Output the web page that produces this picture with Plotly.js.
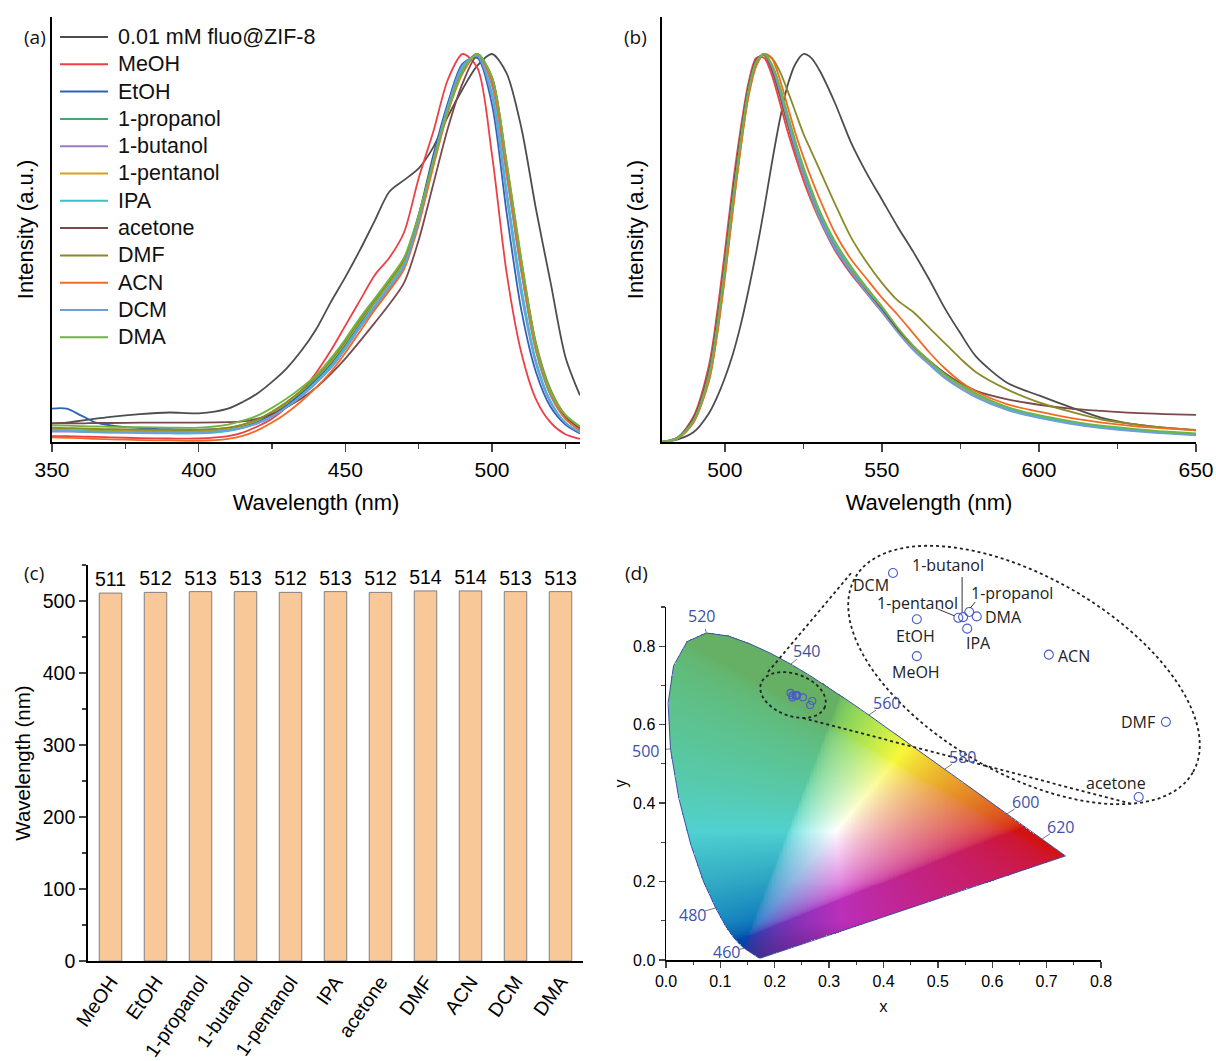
<!DOCTYPE html>
<html>
<head>
<meta charset="utf-8">
<script src="https://cdn.plot.ly/plotly-3.0.1.min.js"></script>
<style>html,body{margin:0;padding:0;background:#fff}#chart{width:1216px;height:1061px}</style>
</head>
<body>
<div id="chart"></div>
<script>
// ---------------- DATA ----------------
const solvents = ['MeOH','EtOH','1-propanol','1-butanol','1-pentanol','IPA','acetone','DMF','ACN','DCM','DMA'];
const seriesNames = ['0.01 mM fluo@ZIF-8'].concat(solvents);

// (a) excitation spectra, normalized
const wlExc = [350,355,360,365,370,380,390,400,410,415,420,425,430,435,440,445,450,455,460,465,470,475,480,485,490,495,500,505,510,515,520,525,530];
const excFluo     = [0.048,0.05,0.055,0.06,0.065,0.072,0.076,0.074,0.086,0.103,0.125,0.155,0.19,0.235,0.29,0.36,0.425,0.495,0.57,0.645,0.675,0.705,0.76,0.84,0.91,0.97,1.0,0.95,0.81,0.6,0.41,0.22,0.12];
const excMeOH     = [0.015,0.015,0.014,0.013,0.012,0.01,0.009,0.009,0.015,0.024,0.04,0.06,0.09,0.13,0.178,0.235,0.3,0.365,0.43,0.475,0.54,0.68,0.8,0.935,1.0,0.965,0.74,0.435,0.23,0.11,0.05,0.02,0.008];
const excEtOH     = [0.086,0.086,0.068,0.05,0.043,0.036,0.033,0.032,0.036,0.042,0.052,0.07,0.095,0.125,0.16,0.2,0.25,0.305,0.36,0.41,0.465,0.585,0.74,0.875,0.975,0.99,0.87,0.59,0.34,0.18,0.09,0.045,0.022];
const excPropanol = [0.033,0.032,0.031,0.03,0.03,0.029,0.028,0.028,0.034,0.042,0.055,0.075,0.1,0.13,0.165,0.205,0.255,0.31,0.36,0.41,0.465,0.58,0.725,0.86,0.96,1.0,0.92,0.69,0.44,0.235,0.12,0.06,0.03];
const excButanol  = [0.027,0.027,0.026,0.026,0.025,0.025,0.025,0.025,0.03,0.037,0.048,0.066,0.09,0.118,0.152,0.19,0.24,0.295,0.345,0.395,0.45,0.565,0.715,0.855,0.955,1.0,0.92,0.69,0.44,0.235,0.12,0.06,0.03];
const excPentanol = [0.035,0.034,0.033,0.032,0.032,0.031,0.03,0.03,0.036,0.044,0.057,0.077,0.102,0.132,0.167,0.207,0.257,0.312,0.362,0.412,0.467,0.58,0.72,0.855,0.955,1.0,0.93,0.71,0.46,0.25,0.13,0.065,0.035];
const excIPA      = [0.031,0.029,0.027,0.025,0.024,0.023,0.022,0.022,0.028,0.036,0.048,0.066,0.09,0.12,0.155,0.195,0.245,0.3,0.352,0.402,0.457,0.575,0.725,0.865,0.965,0.995,0.9,0.65,0.4,0.21,0.105,0.05,0.025];
const excAcetone  = [0.048,0.048,0.048,0.049,0.049,0.05,0.05,0.05,0.051,0.053,0.06,0.072,0.09,0.112,0.14,0.175,0.215,0.26,0.307,0.355,0.41,0.52,0.665,0.81,0.925,0.995,0.94,0.71,0.46,0.25,0.13,0.065,0.035];
const excDMF      = [0.037,0.036,0.035,0.034,0.033,0.032,0.031,0.031,0.037,0.045,0.058,0.078,0.103,0.133,0.168,0.21,0.26,0.315,0.365,0.415,0.47,0.585,0.725,0.86,0.955,1.0,0.94,0.72,0.47,0.255,0.135,0.07,0.04];
const excACN      = [0.012,0.011,0.01,0.008,0.007,0.005,0.004,0.003,0.008,0.016,0.03,0.05,0.075,0.105,0.14,0.18,0.23,0.285,0.34,0.39,0.445,0.56,0.71,0.85,0.95,1.0,0.93,0.7,0.45,0.24,0.125,0.06,0.03];
const excDCM      = [0.029,0.028,0.027,0.026,0.026,0.025,0.025,0.025,0.03,0.037,0.048,0.066,0.09,0.118,0.152,0.19,0.24,0.295,0.348,0.398,0.452,0.57,0.725,0.865,0.97,0.995,0.89,0.63,0.38,0.2,0.1,0.05,0.025];
const excDMA      = [0.043,0.042,0.041,0.04,0.039,0.038,0.037,0.037,0.045,0.055,0.068,0.088,0.112,0.14,0.172,0.215,0.265,0.32,0.37,0.42,0.475,0.585,0.72,0.855,0.955,1.0,0.94,0.72,0.47,0.25,0.13,0.07,0.04];

// (b) emission spectra, normalized
const wlEm = [480,485,490,495,497.5,500,502.5,505,507.5,510,512.5,515,517.5,520,522.5,525,527.5,530,535,540,545,550,555,560,565,570,575,580,590,600,610,620,630,640,650];
const emFluo     = [0,0.007,0.025,0.075,0.115,0.165,0.225,0.3,0.39,0.49,0.6,0.72,0.83,0.92,0.975,1.0,0.99,0.96,0.875,0.775,0.695,0.625,0.555,0.49,0.42,0.345,0.28,0.22,0.152,0.12,0.09,0.062,0.046,0.037,0.03];
const emMeOH     = [0,0.012,0.065,0.2,0.33,0.49,0.66,0.805,0.925,0.99,0.99,0.945,0.875,0.8,0.735,0.675,0.622,0.575,0.495,0.435,0.385,0.335,0.285,0.24,0.205,0.17,0.145,0.122,0.088,0.067,0.052,0.04,0.032,0.025,0.02];
const emEtOH     = [0,0.011,0.06,0.185,0.31,0.465,0.64,0.79,0.915,0.985,0.998,0.96,0.895,0.82,0.75,0.69,0.633,0.58,0.5,0.44,0.388,0.338,0.287,0.242,0.205,0.17,0.143,0.12,0.086,0.065,0.05,0.038,0.03,0.024,0.019];
const emPropanol = [0,0.01,0.055,0.175,0.295,0.45,0.62,0.775,0.905,0.98,1.0,0.97,0.91,0.835,0.765,0.7,0.643,0.59,0.508,0.447,0.395,0.344,0.291,0.245,0.207,0.172,0.145,0.122,0.088,0.066,0.051,0.039,0.031,0.025,0.02];
const emButanol  = [0,0.01,0.056,0.176,0.297,0.452,0.622,0.776,0.905,0.98,1.0,0.968,0.906,0.83,0.76,0.695,0.638,0.585,0.505,0.444,0.392,0.342,0.289,0.243,0.205,0.17,0.143,0.12,0.086,0.065,0.05,0.038,0.03,0.024,0.019];
const emPentanol = [0,0.011,0.058,0.185,0.31,0.465,0.64,0.79,0.915,0.985,0.998,0.96,0.893,0.818,0.748,0.688,0.631,0.578,0.5,0.442,0.39,0.341,0.289,0.243,0.206,0.171,0.144,0.121,0.087,0.066,0.051,0.039,0.031,0.025,0.02];
const emIPA      = [0,0.01,0.055,0.175,0.295,0.45,0.62,0.775,0.905,0.98,1.0,0.972,0.915,0.84,0.77,0.705,0.648,0.595,0.513,0.451,0.398,0.347,0.293,0.247,0.208,0.173,0.146,0.123,0.088,0.066,0.051,0.039,0.031,0.025,0.02];
const emAcetone  = [0,0.011,0.06,0.185,0.31,0.465,0.64,0.79,0.915,0.985,0.998,0.96,0.895,0.82,0.75,0.69,0.633,0.58,0.5,0.44,0.388,0.34,0.29,0.247,0.21,0.178,0.152,0.132,0.11,0.096,0.086,0.08,0.075,0.072,0.07];
const emDMF      = [0,0.009,0.05,0.16,0.275,0.425,0.595,0.755,0.89,0.97,1.0,0.99,0.955,0.905,0.85,0.795,0.75,0.705,0.615,0.53,0.465,0.41,0.365,0.335,0.295,0.255,0.215,0.18,0.135,0.102,0.078,0.058,0.046,0.037,0.031];
const emACN      = [0,0.009,0.05,0.16,0.275,0.425,0.595,0.755,0.89,0.97,1.0,0.988,0.935,0.865,0.795,0.735,0.68,0.63,0.54,0.473,0.422,0.372,0.328,0.28,0.232,0.19,0.156,0.13,0.097,0.078,0.062,0.05,0.041,0.035,0.03];
const emDCM      = [0,0.01,0.055,0.175,0.295,0.45,0.62,0.775,0.905,0.98,1.0,0.968,0.905,0.828,0.755,0.69,0.633,0.58,0.5,0.44,0.386,0.336,0.283,0.237,0.2,0.165,0.138,0.115,0.082,0.062,0.047,0.036,0.028,0.022,0.017];
const emDMA      = [0,0.01,0.054,0.172,0.292,0.447,0.617,0.772,0.903,0.979,1.0,0.973,0.917,0.845,0.775,0.71,0.653,0.6,0.518,0.455,0.4,0.35,0.295,0.248,0.21,0.175,0.148,0.125,0.09,0.069,0.054,0.042,0.034,0.027,0.022];

// (c) emission peak wavelengths
const peakWl = [511,512,513,513,512,513,512,514,514,513,513];

// (d) CIE 1931 coordinates of the solvents (same order as solvents)
const cieSolX = [0.2325,0.2325,0.2402,0.2393,0.2386,0.2399,0.2651,0.2691,0.2519,0.2290,0.2413];
const cieSolY = [0.6695,0.6746,0.6756,0.6749,0.6748,0.6733,0.6500,0.6604,0.6697,0.6810,0.6750];

// CIE 1931 spectral locus
const locusWl = [380,400,410,420,430,435,440,445,450,455,460,465,470,475,480,485,490,495,500,505,510,515,520,525,530,535,540,545,550,555,560,565,570,575,580,585,590,595,600,605,610,620,630,640,650,660,680,700];
const locusX  = [0.1741,0.1733,0.1726,0.1714,0.1689,0.1669,0.1644,0.1611,0.1566,0.1510,0.1440,0.1355,0.1241,0.1096,0.0913,0.0687,0.0454,0.0235,0.0082,0.0039,0.0139,0.0389,0.0743,0.1142,0.1547,0.1929,0.2296,0.2658,0.3016,0.3373,0.3731,0.4087,0.4441,0.4788,0.5125,0.5448,0.5752,0.6029,0.6270,0.6482,0.6658,0.6915,0.7079,0.7190,0.7260,0.7300,0.7334,0.7347];
const locusY  = [0.0050,0.0048,0.0048,0.0051,0.0069,0.0086,0.0109,0.0138,0.0177,0.0227,0.0297,0.0399,0.0578,0.0868,0.1327,0.2007,0.2950,0.4127,0.5384,0.6548,0.7502,0.8120,0.8338,0.8262,0.8059,0.7816,0.7543,0.7243,0.6923,0.6589,0.6245,0.5896,0.5547,0.5202,0.4866,0.4544,0.4242,0.3965,0.3725,0.3514,0.3340,0.3083,0.2920,0.2809,0.2740,0.2700,0.2666,0.2653];
const markedWl = [460,480,500,520,540,560,580,600,620];

// ---------------- STYLE / LAYOUT HELPERS ----------------
const W = 1216, H = 1061;
const fx = px => px / W;
const fy = py => 1 - py / H;
const colors = ['#4d4d4d','#ee3f46','#2f62b6','#45a866','#9b7bc6','#d6a21d','#3cc0c6','#7a494b','#8c8a28','#f26a24','#6e9fd6','#6fb540'];
const excSeries = [excFluo,excMeOH,excEtOH,excPropanol,excButanol,excPentanol,excIPA,excAcetone,excDMF,excACN,excDCM,excDMA];
const emSeries  = [emFluo,emMeOH,emEtOH,emPropanol,emButanol,emPentanol,emIPA,emAcetone,emDMF,emACN,emDCM,emDMA];
const sansA = 'Liberation Sans, Arial, sans-serif';
const sansD = 'Open Sans, Noto Sans, sans-serif';
const cieBlue = '#3e50a8';

const traces = [];
seriesNames.forEach((n,i)=>{
  traces.push({type:'scatter',mode:'lines',x:wlExc,y:excSeries[i],name:n,showlegend:false,
    line:{color:colors[i],width:1.8,shape:'spline',smoothing:0.8},xaxis:'x',yaxis:'y',hoverinfo:'skip'});
});
seriesNames.forEach((n,i)=>{
  traces.push({type:'scatter',mode:'lines',x:wlEm,y:emSeries[i],name:n,showlegend:false,
    line:{color:colors[i],width:1.8,shape:'spline',smoothing:0.8},xaxis:'x2',yaxis:'y2',hoverinfo:'skip'});
});
traces.push({type:'bar',x:solvents,y:peakWl,text:peakWl.map(String),textposition:'outside',constraintext:'none',
  textfont:{family:sansA,size:19.5,color:'#000'},cliponaxis:false,width:0.5,
  marker:{color:'#f9c899',line:{color:'#7f7f7f',width:1}},xaxis:'x3',yaxis:'y3',showlegend:false,hoverinfo:'skip'});

// CIE colour image
function inside(px,py){
  let c=false; const n=locusX.length;
  for(let i=0,j=n-1;i<n;j=i++){
    const xi=locusX[i], yi=locusY[i], xj=locusX[j], yj=locusY[j];
    if(((yi>py)!==(yj>py)) && (px < (xj-xi)*(py-yi)/(yj-yi)+xi)) c=!c;
  }
  return c;
}
function cieColor(x,y){
  const X=x/y, Y=1, Z=(1-x-y)/y;
  let r= 3.2406*X-1.5372*Y-0.4986*Z;
  let g=-0.9689*X+1.8758*Y+0.0415*Z;
  let b= 0.0557*X-0.2040*Y+1.0570*Z;
  r=Math.max(r,0); g=Math.max(g,0); b=Math.max(b,0);
  const m=Math.max(r,g,b); r/=m; g/=m; b/=m;
  const gam=v=> v<=0.0031308?12.92*v:1.055*Math.pow(v,1/2.4)-0.055;
  r=gam(r); g=gam(g); b=gam(b);
  const L=0.3*r+0.59*g+0.11*b;
  const gdom=Math.max(0,g-Math.max(r,b));
  const cyan=Math.max(0,Math.min(g,b)-r);
  const purple=Math.max(0,Math.min(r,b)-g);
  const s=0.75-0.45*gdom-0.22*cyan-0.2*purple;
  r=L+s*(r-L); g=L+s*(g-L); b=L+s*(b-L);
  const bdom=Math.max(0,b-Math.max(r,g));
  g+=0.4*bdom; r-=0.05*bdom;
  const k=(1-0.08*g*(1-r))*Math.min(1,0.75+2.5*y);
  const cl=v=>Math.round(255*Math.max(0,Math.min(1,v*k)));
  return [cl(r),cl(g),cl(b),1];
}
const imgD = 0.0025, imgNx = 320, imgNy = 360;
const zImg = [];
for(let j=0;j<imgNy;j++){
  const yy=(j+0.5)*imgD, row=[];
  for(let i=0;i<imgNx;i++){
    const xx=(i+0.5)*imgD;
    row.push(inside(xx,yy)?cieColor(xx,yy):[255,255,255,0]);
  }
  zImg.push(row);
}
traces.push({type:'image',z:zImg,colormodel:'rgba',x0:imgD/2,dx:imgD,y0:imgD/2,dy:imgD,xaxis:'x4',yaxis:'y4',hoverinfo:'skip'});
traces.push({type:'scatter',mode:'lines',x:locusX.concat([locusX[0]]),y:locusY.concat([locusY[0]]),
  line:{color:cieBlue,width:1},xaxis:'x4',yaxis:'y4',showlegend:false,hoverinfo:'skip'});
const ptMarker = s => ({symbol:'circle-open',size:s,color:'#4a5cc6',line:{width:1.1,color:'#4a5cc6'}});
traces.push({type:'scatter',mode:'markers',x:cieSolX,y:cieSolY,marker:ptMarker(7),xaxis:'x4',yaxis:'y4',showlegend:false,hoverinfo:'skip'});
traces.push({type:'scatter',mode:'markers',x:cieSolX,y:cieSolY,marker:ptMarker(9),xaxis:'x5',yaxis:'y5',showlegend:false,hoverinfo:'skip'});

// ---------- annotations & shapes ----------
const annotations = [];
const shapes = [];
[['(a)',22,22],['(b)',635,22],['(c)',22,573],['(d)',636,573]].forEach(p=>{
  annotations.push({text:p[0],x:fx(p[1]),y:fy(p[2]),xref:'paper',yref:'paper',showarrow:false,
    font:{family:sansD,size:19,color:'#111'}});
});
// legend of panel (a)
const legX0 = 60, legX1 = 108, legTextX = 116, legY0 = 37, legDy = 27.3;
seriesNames.forEach((n,i)=>{
  const yy = legY0 + legDy*i;
  shapes.push({type:'line',xref:'paper',yref:'paper',x0:fx(legX0),x1:fx(legX1),y0:fy(yy),y1:fy(yy),line:{color:colors[i],width:2}});
  annotations.push({text:n,x:fx(legTextX),y:fy(yy),xref:'paper',yref:'paper',xanchor:'left',yanchor:'middle',showarrow:false,
    font:{family:sansA,size:21.5,color:'#111'}});
});
// wavelength labels around locus (label positions in data units of panel d)
const wlLabelPos = {460:[0.111,0.021],480:[0.049,0.116],500:[-0.038,0.532],520:[0.066,0.876],540:[0.259,0.788],
  560:[0.406,0.656],580:[0.546,0.518],600:[0.661,0.403],620:[0.726,0.340]};
const sx = 543.75, sy = 392.2; // px per unit in panel d
markedWl.forEach(w=>{
  const k = locusWl.indexOf(w);
  const lx = locusX[k], ly = locusY[k];
  const [tx,ty] = wlLabelPos[w];
  if (tx < 0) {
    annotations.push({text:String(w),x:0,y:ty,xref:'x4',yref:'y4',xshift:tx*sx,showarrow:false,
      font:{family:sansD,size:16,color:cieBlue}});
  } else {
    annotations.push({text:String(w),x:tx,y:ty,xref:'x4',yref:'y4',showarrow:false,
      font:{family:sansD,size:16,color:cieBlue}});
  }
  let vx=(tx-lx)*sx, vy=(ty-ly)*sy; const len=Math.hypot(vx,vy);
  vx/=len; vy/=len;
  shapes.push({type:'line',xref:'x4',yref:'y4',xsizemode:'pixel',ysizemode:'pixel',xanchor:lx,yanchor:ly,
    x0:0,y0:0,x1:vx*(len-13),y1:vy*(len-13),line:{color:'#777',width:1}});
});
// inset labels (pixel offsets from each point)
const labelOffsets = {'MeOH':[-1,-16],'EtOH':[-1,-17],'1-propanol':[43,19],'1-butanol':[-15,52],'1-pentanol':[-41,15],
  'IPA':[11,-14],'acetone':[-23,14],'DMF':[-28,0],'ACN':[25,-1],'DCM':[-22,-12],'DMA':[27,-1]};
solvents.forEach((s,i)=>{
  const o=labelOffsets[s];
  annotations.push({text:s,x:cieSolX[i],y:cieSolY[i],xref:'x5',yref:'y5',xshift:o[0],yshift:o[1],showarrow:false,
    font:{family:sansD,size:16,color:'#222'}});
});
const leader = (name,a,b)=>{const i=solvents.indexOf(name);
  shapes.push({type:'line',xref:'x5',yref:'y5',xsizemode:'pixel',ysizemode:'pixel',xanchor:cieSolX[i],yanchor:cieSolY[i],
    x0:a[0],y0:a[1],x1:b[0],y1:b[1],line:{color:'#333',width:1}});};
leader('1-butanol',[-1,40],[-1,5]);
leader('1-pentanol',[-21,9],[-4,2]);
leader('1-propanol',[6,10],[1,4]);
// zoom ellipses and connectors (screen-space geometry)
function ellipsePath(cx,cy,a,b,deg){
  const t=deg*Math.PI/180; let d='';
  for(let k=0;k<=90;k++){
    const p=2*Math.PI*k/90, ex=a*Math.cos(p), ey=b*Math.sin(p);
    const px=cx+ex*Math.cos(t)-ey*Math.sin(t), py=cy+ex*Math.sin(t)+ey*Math.cos(t);
    d+=(k?'L':'M')+fx(px).toFixed(5)+','+fy(py).toFixed(5);
  }
  return d+'Z';
}
const dotLine = {color:'#222',width:1.8,dash:'dot'};
shapes.push({type:'path',xref:'paper',yref:'paper',path:ellipsePath(1024,675,195,98,30),line:dotLine});
shapes.push({type:'path',xref:'paper',yref:'paper',path:ellipsePath(793,695,34,21,20),line:dotLine});
shapes.push({type:'line',xref:'paper',yref:'paper',x0:fx(768),y0:fy(672),x1:fx(852),y1:fy(572),line:dotLine});
shapes.push({type:'line',xref:'paper',yref:'paper',x0:fx(803),y0:fy(718),x1:fx(1132),y1:fy(804),line:dotLine});

// ---------- axes ----------
const axLine = {showline:true,linecolor:'#000',linewidth:1.8,zeroline:false,showgrid:false};
const layout = {
  width:W,height:H,margin:{l:0,r:0,t:0,b:0},paper_bgcolor:'#fff',plot_bgcolor:'rgba(0,0,0,0)',
  font:{family:sansA,color:'#000'},
  showlegend:false,
  xaxis:Object.assign({},axLine,{domain:[fx(52),fx(580)],anchor:'y',range:[350,530],tick0:350,dtick:50,ticks:'outside',ticklen:8,tickwidth:1.5,
    minor:{dtick:25,ticks:'outside',ticklen:5,tickwidth:1.2},tickfont:{size:21},
    title:{text:'Wavelength (nm)',font:{size:22},standoff:14}}),
  yaxis:Object.assign({},axLine,{domain:[fy(442),fy(17)],anchor:'x',range:[0,1.0954],showticklabels:false,ticks:'',
    title:{text:'Intensity (a.u.)',font:{size:22},standoff:10}}),
  xaxis2:Object.assign({},axLine,{domain:[fx(662),fx(1196)],anchor:'y2',range:[480,650],tick0:500,dtick:50,ticks:'outside',ticklen:8,tickwidth:1.5,
    minor:{dtick:25,ticks:'outside',ticklen:5,tickwidth:1.2},tickfont:{size:21},
    title:{text:'Wavelength (nm)',font:{size:22},standoff:14}}),
  yaxis2:Object.assign({},axLine,{domain:[fy(442),fy(17)],anchor:'x2',range:[0,1.0954],showticklabels:false,ticks:'',
    title:{text:'Intensity (a.u.)',font:{size:22},standoff:10}}),
  xaxis3:Object.assign({},axLine,{domain:[fx(88),fx(583)],anchor:'y3',type:'category',range:[-0.5,10.5],ticks:'',tickangle:-55,
    tickfont:{size:19.5}}),
  yaxis3:Object.assign({},axLine,{domain:[fy(961),fy(565)],anchor:'x3',range:[0,550],dtick:100,ticks:'outside',ticklen:7,tickwidth:1.5,
    minor:{dtick:50,ticks:'outside',ticklen:4,tickwidth:1.2},tickfont:{size:19.5},
    title:{text:'Wavelength (nm)',font:{size:20.5},standoff:6}}),
  xaxis4:Object.assign({},axLine,{domain:[fx(666),fx(1101)],anchor:'y4',range:[0,0.8],autorange:false,dtick:0.1,tickformat:'.1f',ticks:'outside',ticklen:6,tickwidth:1.4,
    minor:{dtick:0.05,ticks:'outside',ticklen:3.5,tickwidth:1.1},tickfont:{size:16},linewidth:1.5,
    title:{text:'x',font:{family:sansD,size:16},standoff:12}}),
  yaxis4:Object.assign({},axLine,{domain:[fy(960),fy(607)],anchor:'x4',range:[0,0.9],autorange:false,scaleanchor:false,tick0:0,dtick:0.2,tickformat:'.1f',ticks:'outside',ticklen:6,tickwidth:1.4,
    minor:{dtick:0.1,ticks:'outside',ticklen:3.5,tickwidth:1.1},tickfont:{size:16},linewidth:1.5,
    title:{text:'y',font:{family:sansD,size:16},standoff:2}}),
  xaxis5:{domain:[fx(850),fx(1200)],anchor:'y5',range:[0.22268,0.27411],visible:false},
  yaxis5:{domain:[fy(810),fy(545)],anchor:'x5',range:[0.6482,0.68488],visible:false},
  annotations:annotations,
  shapes:shapes
};
Plotly.newPlot('chart',traces,layout,{staticPlot:true,displayModeBar:false});
</script>
</body>
</html>
